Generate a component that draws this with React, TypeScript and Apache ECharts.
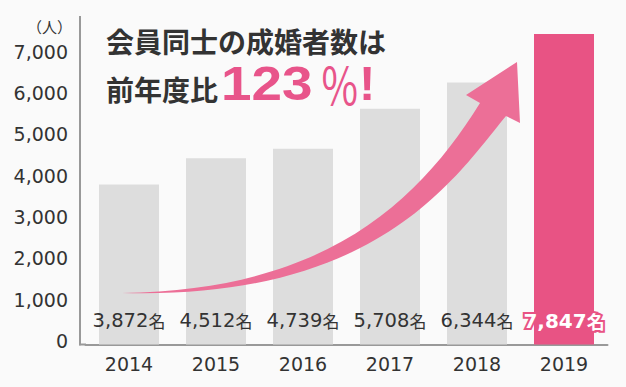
import React, { useEffect, useRef } from "react";
import * as echarts from "echarts";

const categories = ["2014", "2015", "2016", "2017", "2018", "2019"];
const members = [3872, 4512, 4739, 5708, 6344, 7847];
const yMax = 7518;
const yInterval = 1000;
const titleLine1 = "会員同士の成婚者数は";
const titleLine2 = "前年度比";
const ratioText = "123";
const unitY = "（人）";
const unitLabel = "名";

const ARROW_D =
  "M122,293 C330,290 420,199 480,103 L466,95 L517,62 L520,123 L506,116 C456,176 380,300 122,293 Z";

let registered = false;
function ensureShape() {
  if (registered) return;
  echarts.graphic.registerShape("arrowShape", echarts.graphic.extendPath(ARROW_D, {}) as any);
  registered = true;
}

const NUM_FONT = "'DejaVu Sans', 'Noto Sans CJK JP', sans-serif";
const JP_FONT = "'Noto Sans CJK JP', sans-serif";
const PINK_TEXT = "#e8548a";
const PINK_BAR = "#e85384";

export default function App() {
  const ref = useRef<HTMLDivElement>(null);
  useEffect(() => {
    if (!ref.current) return;
    ensureShape();
    const chart = echarts.init(ref.current, undefined, { renderer: "svg" });
    const lastIdx = members.length - 1;
    const option: any = {
      animation: false,
      backgroundColor: "#fafafa",
      grid: { left: 85.5, right: 18.5, top: 34, bottom: 42.5 },
      xAxis: {
        type: "category",
        data: categories,
        axisLine: { show: true, lineStyle: { color: "#999", width: 2 } },
        axisTick: { show: false },
        axisLabel: { color: "#333", fontSize: 19, fontFamily: NUM_FONT, margin: 10 },
      },
      yAxis: {
        type: "value",
        min: 0,
        max: yMax,
        interval: yInterval,
        offset: 5.5,
        axisLine: { show: true, lineStyle: { color: "#999", width: 2 } },
        axisTick: { show: false },
        splitLine: { show: false },
        axisLabel: {
          color: "#333",
          fontSize: 19,
          fontFamily: NUM_FONT,
          margin: 12,
          showMaxLabel: false,
          verticalAlign: "bottom",
          lineHeight: 7,
          formatter: (v: number) => (v % yInterval === 0 ? v.toLocaleString("en-US") : ""),
        },
      },
      series: [
        {
          type: "bar",
          barWidth: 60,
          clip: true,
          data: members.map((v, i) => ({
            value: v,
            itemStyle: { color: i === lastIdx ? PINK_BAR : "#dddddd" },
            label:
              i === lastIdx
                ? {
                    rich: {
                      n: {
                        fontSize: 20,
                        fontWeight: "bold",
                        fontFamily: NUM_FONT,
                        color: "#fff",
                        textBorderColor: PINK_BAR,
                        textBorderWidth: 4,
                      },
                      u: {
                        fontSize: 18,
                        fontWeight: "bold",
                        fontFamily: JP_FONT,
                        color: "#fff",
                        textBorderColor: PINK_BAR,
                        textBorderWidth: 4,
                      },
                    },
                  }
                : undefined,
          })),
          label: {
            show: true,
            position: "insideBottom",
            distance: 14,
            formatter: (p: any) => `{n|${p.value.toLocaleString("en-US")}}{u|${unitLabel}}`,
            rich: {
              n: { fontSize: 19.5, fontFamily: NUM_FONT, color: "#333" },
              u: { fontSize: 17, fontFamily: JP_FONT, color: "#333" },
            },
          },
        },
      ],
      graphic: [
        { type: "line", shape: { x1: 80, y1: 16, x2: 80, y2: 35 }, style: { stroke: "#999", lineWidth: 2 }, z: 5 },
        { type: "line", shape: { x1: 79, y1: 344.5, x2: 86, y2: 344.5 }, style: { stroke: "#999", lineWidth: 2 }, z: 5 },
        {
          type: "text",
          x: 72,
          y: 26,
          style: { text: unitY, fontSize: 15, fontFamily: JP_FONT, fill: "#333", align: "right", verticalAlign: "middle" },
        },
        {
          type: "text",
          x: 106,
          y: 41,
          style: { text: titleLine1, fontSize: 28, lineHeight: 30, fontWeight: "bold", fontFamily: JP_FONT, fill: "#333", align: "left", verticalAlign: "middle" },
        },
        {
          type: "text",
          x: 106,
          y: 89,
          style: { text: titleLine2, fontSize: 28, lineHeight: 30, fontWeight: "bold", fontFamily: JP_FONT, fill: "#333", align: "left", verticalAlign: "middle" },
        },
        {
          type: "text",
          x: 221,
          y: 83,
          scaleX: 1.12,
          style: { text: ratioText, fontSize: 49, lineHeight: 36, fontWeight: "bold", fontFamily: "'Liberation Sans', sans-serif", fill: PINK_TEXT, align: "left", verticalAlign: "middle" },
        },
        {
          type: "text",
          x: 320,
          y: 83,
          scaleX: 0.76,
          style: { text: "％", fontSize: 52, lineHeight: 36, fontFamily: JP_FONT, fill: PINK_TEXT, align: "left", verticalAlign: "middle" },
        },
        {
          type: "text",
          x: 359,
          y: 83,
          style: { text: "!", fontSize: 49, lineHeight: 36, fontWeight: "bold", fontFamily: "'Liberation Sans', sans-serif", fill: PINK_TEXT, align: "left", verticalAlign: "middle" },
        },
        {
          type: "arrowShape",
          x: 0,
          y: 0,
          z: 10,
          style: { fill: "#ec6f97" },
        },
      ],
    };
    chart.setOption(option);
    return () => chart.dispose();
  }, []);
  return <div ref={ref} style={{ width: 626, height: 387, position: "absolute", left: 0, top: 0 }} />;
}
